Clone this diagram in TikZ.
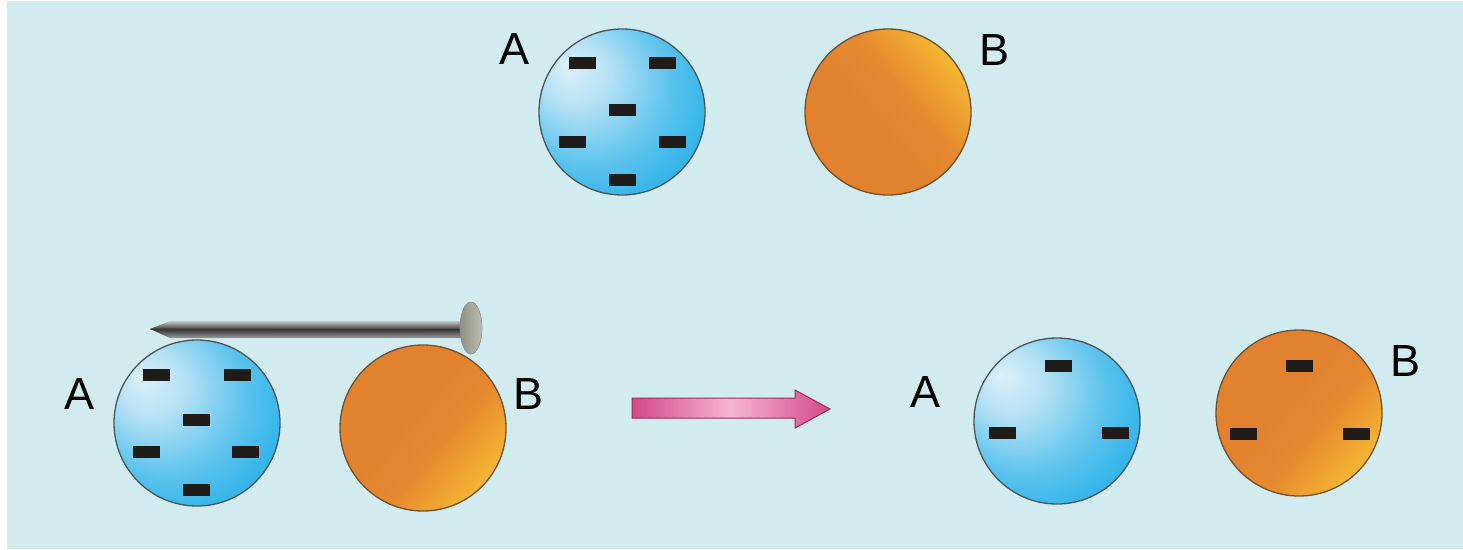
\documentclass[tikz,border=0pt]{standalone}
\usepackage{fontspec}
\setmainfont{Liberation Sans}
\usetikzlibrary{calc}

\definecolor{bgcyan}{HTML}{D2EBEE}
\definecolor{rimgray}{HTML}{4E5558}
\definecolor{rimbrown}{HTML}{6E5232}
\definecolor{chargeblack}{HTML}{1F1B18}
\definecolor{blA}{HTML}{DDF0F9}
\definecolor{blB}{HTML}{B5E1F4}
\definecolor{blC}{HTML}{5CC3EE}
\definecolor{blD}{HTML}{26B0E8}
\definecolor{blE}{HTML}{1AA3DD}
\definecolor{orA}{HTML}{E2822F}
\definecolor{orB}{HTML}{E68A30}
\definecolor{orC}{HTML}{F6BA32}
\definecolor{pinkA}{HTML}{D4488A}
\definecolor{pinkB}{HTML}{F5B6D2}
\definecolor{pinkEdge}{HTML}{A02A60}
\definecolor{nailhead}{HTML}{A9AB9E}

% metal sphere fills
\pgfdeclareradialshading{blueball}{\pgfpoint{-17bp}{14bp}}{%
  color(0bp)=(blA); color(10bp)=(blB); color(24bp)=(blC);
  color(36bp)=(blD); color(55bp)=(blE)}
\pgfdeclarehorizontalshading{orangeball}{100bp}{%
  color(0bp)=(orA); color(45bp)=(orA); color(58bp)=(orB);
  color(76bp)=(orC); color(100bp)=(orC)}

\tikzset{
  ball/.style={circle, minimum size=166pt, inner sep=0pt, line width=1.3pt},
  blueball/.style={ball, draw=rimgray, shade, shading=blueball},
  orangeball/.style={ball, draw=rimbrown, shade, shading=orangeball, shading angle=#1},
  eminus/.style={rectangle, fill=chargeblack, minimum width=27pt,
    minimum height=12pt, inner sep=0pt},
  ballname/.style={inner sep=0pt, font=\fontsize{45}{50}\selectfont}
}

\begin{document}
\begin{tikzpicture}[x=1pt, y=-1pt]
  \useasboundingbox (0,0) rectangle (1463,549);
  \fill[white] (0,0) rectangle (1463,549);
  \fill[bgcyan] (7,1) rectangle (1463,549);

  % ---- top row: charged A, neutral B ----
  \node[blueball] (a1) at (622,112) {};
  \node[orangeball=40] (b1) at (888,112) {};
  \node[ballname] (la1) at (514,49) {A};
  \node[ballname] (lb1) at (994,50) {B};
  \foreach \dx/\dy [count=\i] in {-40/-49, 40/-49, 0/-2, -50/30, 50/30, 0/68}
    \node[eminus] (a1m\i) at ($(a1)+(\dx,\dy)$) {};

  % ---- bottom left: nail joining A and B ----
  \node[blueball] (a2) at (197,423) {};
  \node[orangeball=-40] (b2) at (423,428) {};
  \node[ballname] (la2) at (80,394) {A};
  \node[ballname] (lb2) at (528,394) {B};
  \foreach \dx/\dy [count=\i] in {-41/-48, 40/-48, -1/-3, -51/29, 48/29, -1/67}
    \node[eminus] (a2m\i) at ($(a2)+(\dx,\dy)$) {};

  % nail shaft and head
  \path[top color=black!22, bottom color=black!40, middle color=black!78]
    (150,329) -- (170,321) -- (463,321) -- (463,338) -- (170,338) -- cycle;
  \draw[black!80, line width=0.6pt] (150,329) -- (463,329.5);
  \path[left color=nailhead!85!black, right color=nailhead!80!white,
        draw=black!45, line width=0.6pt]
    (471,328) ellipse [x radius=11, y radius=26];

  % ---- transfer arrow ----
  \path[draw=pinkEdge, line width=1pt, left color=pinkA, right color=pinkA,
        middle color=pinkB]
    (632,398) -- (795,398) -- (795,390) -- (830,409) -- (795,428)
    -- (795,418) -- (632,418) -- cycle;

  % ---- bottom right: charge shared ----
  \node[blueball] (a3) at (1057,421) {};
  \node[orangeball=-40] (b3) at (1299,413) {};
  \node[ballname] (la3) at (925,392) {A};
  \node[ballname] (lb3) at (1405,361) {B};
  \node[eminus] (a3m1) at ($(a3)+(1,-55)$) {};
  \node[eminus] (a3m2) at ($(a3)+(-55,12)$) {};
  \node[eminus] (a3m3) at ($(a3)+(58,12)$) {};
  \node[eminus] (b3m1) at ($(b3)+(0,-47)$) {};
  \node[eminus] (b3m2) at ($(b3)+(-56,21)$) {};
  \node[eminus] (b3m3) at ($(b3)+(57,21)$) {};
\end{tikzpicture}
\end{document}
